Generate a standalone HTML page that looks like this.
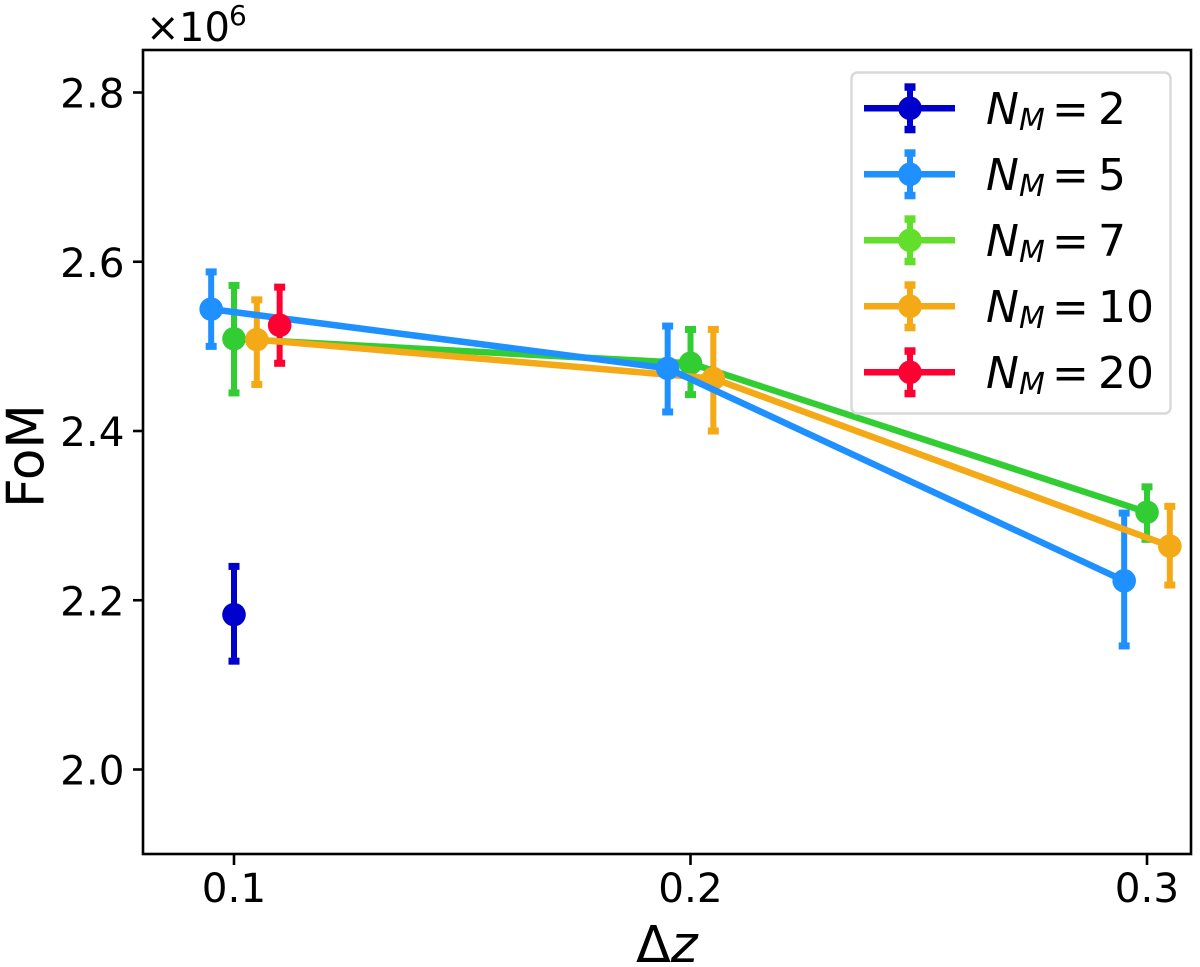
<!DOCTYPE html>
<html lang="en">
<head>
<meta charset="utf-8">
<title>FoM vs Delta z</title>
<style>
html,body{margin:0;padding:0;background:#fff;width:1200px;height:967px;overflow:hidden}
svg{display:block}
text{font-family:"DejaVu Sans",sans-serif;fill:#000}
</style>
</head>
<body>
<svg id="chart" xmlns="http://www.w3.org/2000/svg" width="1200" height="967" viewBox="0 0 1200 967">
  <rect x="143" y="50" width="1048" height="804" fill="#fff"/>
  <g id="errs"></g>
  <g id="lines"></g>
  <rect x="143" y="50" width="1048" height="804" fill="none" stroke="#000" stroke-width="2.6"/>
  <g id="axes"></g>
  <text font-size="40" y="41"><tspan x="146">×</tspan><tspan x="179">10</tspan><tspan x="229" y="25" font-size="28">6</tspan></text>
  <text font-size="51.5" text-anchor="middle" transform="translate(43.5 456) rotate(-90)">FoM</text>
  <text font-size="51" y="962"><tspan x="636">Δ</tspan><tspan font-style="italic">z</tspan></text>
  <g id="legend">
    <rect x="851.5" y="72.5" width="319" height="341" rx="6" fill="#fff" fill-opacity="0.9" stroke="#d8d8d8" stroke-width="2.4"/>
  </g>
</svg>
<script>
const xTickValues = [0.1, 0.2, 0.3];
const xTickLabels = ['0.1', '0.2', '0.3'];
const yTickValues = [2.0, 2.2, 2.4, 2.6, 2.8];
const yTickLabels = ['2.0', '2.2', '2.4', '2.6', '2.8'];

const seriesNames = ['2', '5', '7', '10', '20'];
const seriesColors = ['#0000cd', '#1e90ff', '#32cd32', '#f4a916', '#ff0033'];
const legendColors = ['#0000cd', '#1e90ff', '#62df2a', '#f4a916', '#ff0033'];

const xM2 = [0.1];
const fomM2 = [2.183];
const lowM2 = [2.128];
const highM2 = [2.240];

const xM5 = [0.095, 0.195, 0.295];
const fomM5 = [2.544, 2.474, 2.223];
const lowM5 = [2.500, 2.4225, 2.146];
const highM5 = [2.588, 2.524, 2.303];

const xM7 = [0.1, 0.2, 0.3];
const fomM7 = [2.509, 2.480, 2.304];
const lowM7 = [2.445, 2.443, 2.272];
const highM7 = [2.572, 2.520, 2.334];

const xM10 = [0.105, 0.205, 0.305];
const fomM10 = [2.508, 2.462, 2.264];
const lowM10 = [2.455, 2.400, 2.218];
const highM10 = [2.555, 2.520, 2.311];

const xM20 = [0.11];
const fomM20 = [2.525];
const lowM20 = [2.480];
const highM20 = [2.570];

const seriesX = [xM2, xM5, xM7, xM10, xM20];
const seriesFom = [fomM2, fomM5, fomM7, fomM10, fomM20];
const seriesLow = [lowM2, lowM5, lowM7, lowM10, lowM20];
const seriesHigh = [highM2, highM5, highM7, highM10, highM20];
const drawOrder = [0, 2, 3, 1, 4];

const NS = 'http://www.w3.org/2000/svg';
function xScale(v) { return 234 + (v - 0.1) * 4565; }
function yScale(v) { return 769.5 - (v - 2) * 846.25; }
function make(tag, parent, attrs) {
  const node = document.createElementNS(NS, tag);
  for (const k in attrs) node.setAttribute(k, attrs[k]);
  parent.appendChild(node);
  return node;
}

const axes = document.getElementById('axes');
xTickValues.forEach(function (v, i) {
  const px = xScale(v);
  const tick = make('line', axes, { x1: px, x2: px, y1: 854, y2: 865, stroke: '#000', 'stroke-width': 2.6 });
  
  
  const label = make('text', axes, { x: px, y: 902, 'font-size': 40.5, 'text-anchor': 'middle' });
  label.textContent = xTickLabels[i];
  
  
});
yTickValues.forEach(function (v, i) {
  const py = yScale(v);
  const tick = make('line', axes, { x1: 133, x2: 143, y1: py, y2: py, stroke: '#000', 'stroke-width': 2.6 });
  
  
  const label = make('text', axes, { x: 124.5, y: py + 15, 'font-size': 40.5, 'text-anchor': 'end' });
  label.textContent = yTickLabels[i];
  
  
});

const errs = document.getElementById('errs');
const lines = document.getElementById('lines');
drawOrder.forEach(function (s) {
  const color = seriesColors[s];
  const xs = seriesX[s];
  const errGroup = make('g', errs, {});
  
  
  xs.forEach(function (x, i) {
    const px = xScale(x);
    const lo = yScale(seriesLow[s][i]);
    const hi = yScale(seriesHigh[s][i]);
    const bar = make('line', errGroup, { x1: px, x2: px, y1: lo, y2: hi, stroke: color, 'stroke-width': 6 });
    
    
    [lo, hi].forEach(function (c) {
      const cap = make('rect', errGroup, { x: px - 5.5, y: c - 3.5, width: 11, height: 7, fill: color });
      
      
    });
  });
  const lineGroup = make('g', lines, {});
  
  
  const pts = xs.map(function (x, i) { return xScale(x) + ',' + yScale(seriesFom[s][i]); }).join(' ');
  const poly = make('polyline', lineGroup, { points: pts, fill: 'none', stroke: color, 'stroke-width': 6.5, 'stroke-linejoin': 'round' });
  
  
  xs.forEach(function (x, i) {
    const dot = make('circle', lineGroup, { cx: xScale(x), cy: yScale(seriesFom[s][i]), r: 11.8, fill: color });
    
    
  });
});

const legend = document.getElementById('legend');
seriesNames.forEach(function (name, i) {
  const cy = 108.3 + i * 66;
  const color = legendColors[i];
  const entry = make('g', legend, {});
  
  
  make('line', entry, { x1: 864, x2: 955, y1: cy, y2: cy, stroke: color, 'stroke-width': 6.5 });
  make('line', entry, { x1: 910, x2: 910, y1: cy - 22, y2: cy + 22, stroke: color, 'stroke-width': 6 });
  make('rect', entry, { x: 904.5, y: cy - 25, width: 11, height: 7.5, fill: color });
  make('rect', entry, { x: 904.5, y: cy + 17.5, width: 11, height: 7.5, fill: color });
  make('circle', entry, { cx: 910, cy: cy, r: 11.8, fill: color });
  const base = cy + 15.5;
  const label = make('text', entry, { y: base, 'font-size': 44 });
  const n = make('tspan', label, { x: 986, 'font-style': 'italic' });
  n.textContent = 'N';
  const m = make('tspan', label, { x: 1019, y: base + 6, 'font-size': 30, 'font-style': 'italic' });
  m.textContent = 'M';
  const eq = make('tspan', label, { x: 1052, y: base });
  eq.textContent = '=';
  const val = make('tspan', label, { x: 1098, y: base });
  val.textContent = name;
});
</script>
</body>
</html>
